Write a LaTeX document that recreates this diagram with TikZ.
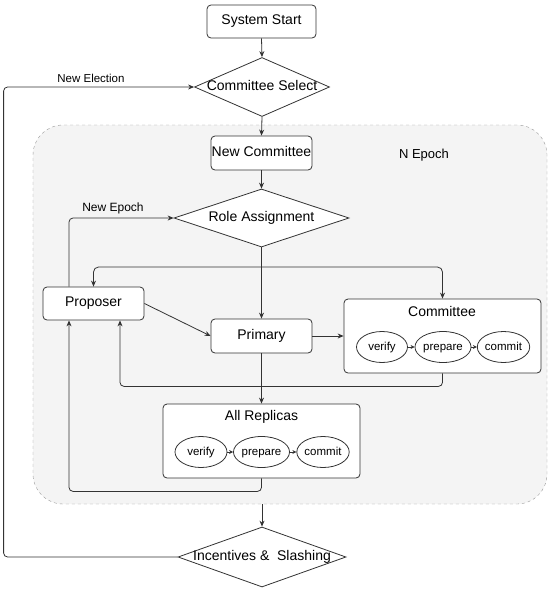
\documentclass[tikz,border=0pt]{standalone}
\usepackage{fontspec}
\setmainfont{Liberation Sans}
\usetikzlibrary{shapes.geometric,arrows.meta}
\definecolor{ln}{HTML}{333333}
\definecolor{regfill}{HTML}{F4F4F4}
\definecolor{regline}{HTML}{9A9A9A}
\tikzset{
  vc/.style={text height=0.7em, text depth=0.04em},
  box/.style={draw=ln, line width=0.8pt, fill=white, rounded corners=4pt, inner sep=0pt, vc, font=\fontsize{14}{16}\selectfont},
  dia/.style={draw=ln, line width=0.8pt, fill=white, diamond, inner sep=0pt, label={[font=\fontsize{14}{16}\selectfont, vc, inner sep=0pt]center:#1}},
  ell/.style={draw=ln, line width=0.8pt, fill=white, ellipse, inner sep=0pt, vc, minimum height=31pt, font=\fontsize{11.5}{13}\selectfont},
  conn/.style={draw=ln, line width=0.8pt, -{Stealth[length=6pt,width=5pt]}},
  plain/.style={draw=ln, line width=0.8pt},
  small/.style={draw=ln, line width=0.8pt, -{Stealth[length=4pt,width=4pt]}},
  txt/.style={inner sep=0pt, vc}
}
\begin{document}
\begin{tikzpicture}[x=1pt,y=-1pt]
\useasboundingbox (0,0) rectangle (550,592);
% region
\node[draw=regline, dashed, fill=regfill, rounded corners=30pt, minimum width=514pt, minimum height=379pt, inner sep=0pt] (ep) at (290,314.5) {};
\node[txt, font=\fontsize{13}{15}\selectfont] (eplab) at (424,155) {N Epoch};
% nodes
\node[box, minimum width=109pt, minimum height=33pt] (ss) at (261.5,21.5) {System Start};
\node[dia={Committee Select}, minimum width=135pt, minimum height=59pt] (cs) at (262,87) {};
\node[txt, font=\fontsize{11.5}{13}\selectfont] (nel) at (91,79) {New Election};
\node[box, minimum width=101pt, minimum height=34pt] (nc) at (261.5,153) {New Committee};
\node[dia={Role Assignment}, minimum width=175pt, minimum height=58pt] (ra) at (261.5,218) {};
\node[txt, font=\fontsize{12}{14}\selectfont] (nepl) at (113,208) {New Epoch};
\node[box, minimum width=101pt, minimum height=33pt] (prop) at (93.5,303.5) {Proposer};
\node[box, minimum width=101pt, minimum height=34pt] (prim) at (261.5,336) {Primary};
\node[box, minimum width=197pt, minimum height=74pt] (comm) at (442.5,336) {};
\node[txt, font=\fontsize{14}{16}\selectfont] (commt) at (442,313) {Committee};
\node[ell, minimum width=51pt] (cv) at (382,347) {verify};
\node[ell, minimum width=53pt] (cp) at (443,347) {prepare};
\node[ell, minimum width=51pt] (cc) at (503.5,347) {commit};
\node[box, minimum width=197pt, minimum height=74pt] (ar) at (261.5,441) {};
\node[txt, font=\fontsize{14}{16}\selectfont] (art) at (261.5,417) {All Replicas};
\node[ell, minimum width=52pt] (av) at (201,452) {verify};
\node[ell, minimum width=52pt] (ap) at (261.5,452) {prepare};
\node[ell, minimum width=52pt] (ac) at (323,452) {commit};
\node[dia={Incentives \&\ \ Slashing}, minimum width=168pt, minimum height=60pt] (inc) at (262,557) {};
\coordinate (br) at (261.5,267);
% connectors
\draw[conn] (ss.south) -- (cs.north);
\draw[conn] (cs.south) -- (nc.north);
\draw[conn] (nc.south) -- (ra.north);
\draw[plain] (ra.south) -- (br);
\draw[conn, rounded corners=5pt] (br) -| (prop.north);
\draw[conn, rounded corners=5pt] (br) -| (comm.north);
\draw[conn] (br) -- (prim.north);
\draw[conn] (prop.east) -- (prim.west);
\draw[conn] (prim.east) -- (comm.west);
\draw[conn, rounded corners=4pt] (comm.south) -- ++(0,13) -| ([xshift=26.5pt]prop.south);
\draw[conn, rounded corners=4pt] ([xshift=-24.5pt]prop.north) |- (ra.west);
\draw[conn] (prim.south) -- (ar.north);
\draw[conn, rounded corners=4pt] (ar.south) -- ++(0,13) -| ([xshift=-24.5pt]prop.south);
\draw[small] (cv) -- (cp);
\draw[small] (cp) -- (cc);
\draw[small] (av) -- (ap);
\draw[small] (ap) -- (ac);
\draw[conn] (ep.south -| inc.north) -- (inc.north);
\draw[conn, rounded corners=4pt] (inc.west) -- ++(-174,0) |- (cs.west);
\end{tikzpicture}
\end{document}
